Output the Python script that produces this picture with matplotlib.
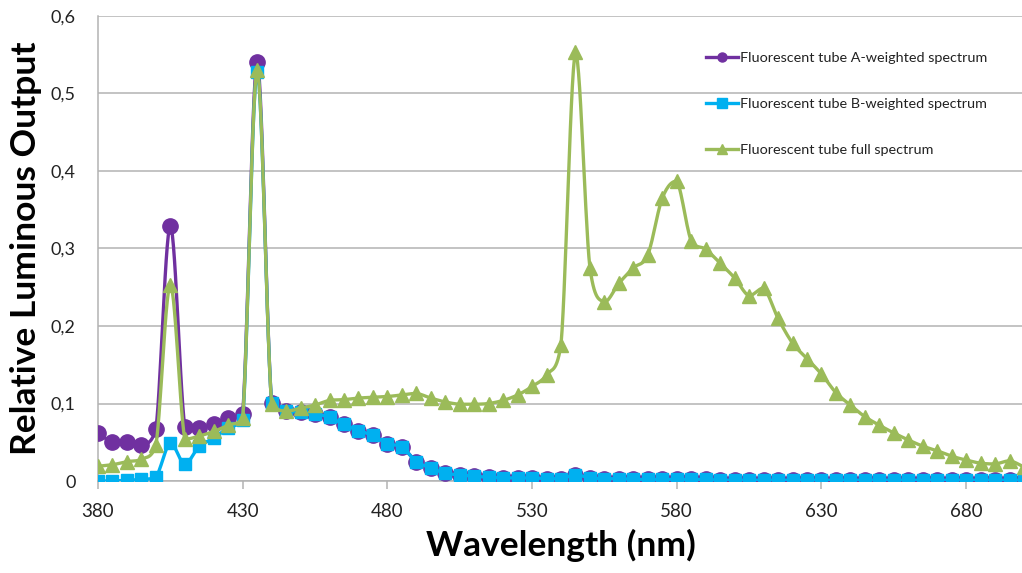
import numpy as np
import matplotlib
matplotlib.use("Agg")
import matplotlib.pyplot as plt
from matplotlib.ticker import FuncFormatter, MultipleLocator

wavelength = list(range(380, 705, 5))

a_weighted = [0.062, 0.050, 0.050, 0.046, 0.067, 0.329, 0.070, 0.069, 0.073, 0.081,
              0.087, 0.541, 0.101, 0.090, 0.089, 0.087, 0.082, 0.073, 0.065, 0.059,
              0.048, 0.044, 0.025, 0.017, 0.010, 0.008, 0.006, 0.005, 0.004, 0.004,
              0.004, 0.003, 0.003, 0.008, 0.004, 0.003, 0.003, 0.002, 0.002, 0.002,
              0.002, 0.002, 0.002, 0.001, 0.001, 0.001, 0.001, 0.001, 0.001, 0.001,
              0.001, 0.001, 0.001, 0.001, 0.001, 0.001, 0.001, 0.001, 0.001, 0.001,
              0.001, 0.001, 0.001, 0.001, 0.001]

b_weighted = [0.000, 0.000, 0.001, 0.002, 0.005, 0.049, 0.022, 0.045, 0.055, 0.069,
              0.079, 0.528, 0.101, 0.090, 0.089, 0.087, 0.082, 0.073, 0.065, 0.059,
              0.048, 0.044, 0.025, 0.017, 0.010, 0.008, 0.006, 0.005, 0.004, 0.004,
              0.004, 0.003, 0.003, 0.008, 0.004, 0.003, 0.003, 0.002, 0.002, 0.002,
              0.002, 0.002, 0.002, 0.001, 0.001, 0.001, 0.001, 0.001, 0.001, 0.001,
              0.001, 0.001, 0.001, 0.001, 0.001, 0.001, 0.001, 0.001, 0.001, 0.001,
              0.001, 0.001, 0.001, 0.001, 0.001]

full_spectrum = [0.019, 0.021, 0.025, 0.028, 0.046, 0.253, 0.054, 0.058, 0.064, 0.072,
                 0.081, 0.530, 0.100, 0.090, 0.094, 0.098, 0.104, 0.105, 0.107, 0.108,
                 0.109, 0.111, 0.113, 0.107, 0.102, 0.099, 0.099, 0.100, 0.104, 0.111,
                 0.122, 0.137, 0.176, 0.553, 0.275, 0.231, 0.255, 0.275, 0.292, 0.365,
                 0.387, 0.310, 0.299, 0.281, 0.262, 0.239, 0.249, 0.210, 0.178, 0.158,
                 0.138, 0.114, 0.098, 0.083, 0.072, 0.062, 0.053, 0.045, 0.039, 0.032,
                 0.027, 0.023, 0.022, 0.026, 0.018]

labels = ["Fluorescent tube A-weighted spectrum",
          "Fluorescent tube B-weighted spectrum",
          "Fluorescent tube full spectrum"]
colors = ["#7030A0", "#00B0F0", "#9BBB59"]

plt.rcParams['font.family'] = ['Lato', 'DejaVu Sans']


def smooth(x, y, n=14):
    """Smoothed line (Bezier through data points, without overshoot)."""
    x = np.asarray(x, float)
    y = np.asarray(y, float)
    px = np.concatenate([[x[0]], x, [x[-1]]])
    py = np.concatenate([[y[0]], y, [y[-1]]])
    xs, ys = [], []
    t = np.linspace(0, 1, n, endpoint=False)
    for i in range(1, len(px) - 2):
        p0 = np.array([px[i - 1], py[i - 1]])
        p1 = np.array([px[i], py[i]])
        p2 = np.array([px[i + 1], py[i + 1]])
        p3 = np.array([px[i + 2], py[i + 2]])
        c1 = p1 + (p2 - p0) / 6.0
        c2 = p2 - (p3 - p1) / 6.0
        lo, hi = min(p1[1], p2[1]), max(p1[1], p2[1])
        c1[1] = np.clip(c1[1], lo, hi)
        c2[1] = np.clip(c2[1], lo, hi)
        b = ((1 - t) ** 3)[:, None] * p1 + (3 * (1 - t) ** 2 * t)[:, None] * c1 \
            + (3 * (1 - t) * t ** 2)[:, None] * c2 + (t ** 3)[:, None] * p2
        xs.append(b[:, 0])
        ys.append(b[:, 1])
    xs.append([x[-1]])
    ys.append([y[-1]])
    return np.concatenate(xs), np.concatenate(ys)


fig = plt.figure(figsize=(10.22, 5.73), dpi=100)
W, H = 1022, 573
left_px, right_px, top_px, bottom_px = 98, 1024, 16, 481
ax = fig.add_axes([left_px / W, 1 - bottom_px / H, (right_px - left_px) / W,
                   (bottom_px - top_px) / H])

series = [a_weighted, b_weighted, full_spectrum]
markers = ["o", "s", "^"]
msizes = [11.0, 9.0, 9.5]
zorders = [3, 4, 5]
handles = []
for vals, c, m, ms, lab, z in zip(series, colors, markers, msizes, labels, zorders):
    sx, sy = smooth(wavelength, vals)
    ax.plot(sx, sy, color=c, lw=2.4, zorder=z, solid_joinstyle='round')
    ax.plot(wavelength, vals, linestyle='none', marker=m, ms=ms, color=c,
            markeredgecolor=c, zorder=z)
    h, = ax.plot([], [], color=c, lw=2.4, marker=m, ms=6.5, label=lab)
    handles.append(h)

ax.set_xlim(380, 700)
ax.set_ylim(0, 0.6)
ax.yaxis.set_major_locator(MultipleLocator(0.1))
ax.set_xticks(list(range(380, 700, 50)))
ax.yaxis.set_major_formatter(FuncFormatter(
    lambda v, p: "0" if abs(v) < 1e-9 else ("%.1f" % v).replace(".", ",")))

ax.grid(axis='y', color='#b3b3b3', lw=1.1, zorder=0)
ax.set_axisbelow(True)
for s in ['top', 'right']:
    ax.spines[s].set_visible(False)
ax.spines['left'].set_color('#b3b3b3')
ax.spines['bottom'].set_color('#b3b3b3')
ax.spines['left'].set_linewidth(1.1)
ax.spines['bottom'].set_linewidth(1.1)
ax.tick_params(axis='y', length=0, labelsize=13, pad=16, colors='#222222')
ax.tick_params(axis='x', length=6, width=1.1, color='#b3b3b3', labelsize=13.5,
               pad=10, labelcolor='#222222')

ax.set_xlabel("Wavelength (nm)", fontsize=25.5, fontweight='bold', labelpad=6)
ax.set_ylabel("Relative Luminous Output", fontsize=25.5, fontweight='bold', labelpad=6)

leg = ax.legend(handles=handles, loc='upper left',
                bbox_to_anchor=(700 / W, 1 - 46 / H), bbox_transform=fig.transFigure,
                frameon=False, fontsize=10.4, labelspacing=2.35, handlelength=2.2,
                handletextpad=0.15, borderaxespad=0)
for t in leg.get_texts():
    t.set_color('#222222')

fig.savefig("out.png", dpi=100, facecolor='white')
